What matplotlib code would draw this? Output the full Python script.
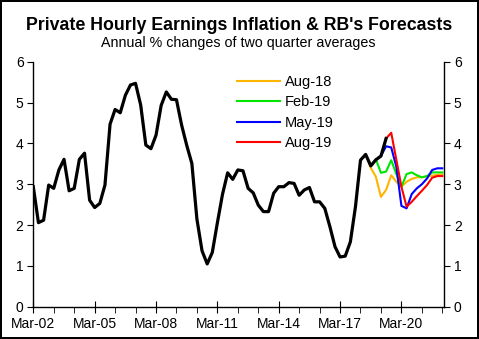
import numpy as np
import pandas as pd
import matplotlib
matplotlib.use("Agg")
import matplotlib.pyplot as plt
import matplotlib.dates as mdates
from matplotlib.ticker import FixedLocator

plt.rcParams['font.family'] = ['Liberation Sans', 'DejaVu Sans']

# quarterly dates, Mar-02 .. Mar-22
quarters = pd.date_range('2002-03-01', periods=81, freq='QS-MAR')

# actual series (Mar-02 .. Jun-19)
actual = [2.94, 2.06, 2.12, 2.98, 2.90, 3.35, 3.61, 2.84, 2.90, 3.61,
          3.76, 2.61, 2.43, 2.53, 2.98, 4.47, 4.83, 4.75, 5.18, 5.43,
          5.47, 4.94, 3.96, 3.87, 4.20, 4.93, 5.26, 5.08, 5.07, 4.45,
          3.95, 3.51, 2.15, 1.37, 1.05, 1.33, 2.05, 2.75, 3.28, 3.12,
          3.35, 3.33, 2.90, 2.79, 2.49, 2.33, 2.33, 2.78, 2.94, 2.94,
          3.04, 3.02, 2.73, 2.86, 2.92, 2.57, 2.57, 2.41, 1.96, 1.47,
          1.22, 1.24, 1.59, 2.45, 3.59, 3.73, 3.45, 3.60, 3.69, 4.12]

# forecasts: (first quarter index, values)
aug18_start = 65
aug18 = [3.73, 3.40, 3.18, 2.69, 2.86, 3.22, 3.06, 2.94, 3.06, 3.13,
         3.17, 3.17, 3.19, 3.21, 3.23, 3.24]
feb19_start = 66
feb19 = [3.45, 3.61, 3.28, 3.31, 3.59, 3.25, 2.94, 3.25, 3.29, 3.22,
         3.17, 3.20, 3.29, 3.29, 3.29]
may19_start = 68
may19 = [3.69, 3.93, 3.90, 3.43, 2.47, 2.41, 2.76, 2.90, 3.00, 3.14,
         3.35, 3.39, 3.39]
aug19_start = 69
aug19 = [4.12, 4.26, 3.60, 2.94, 2.45, 2.57, 2.71, 2.84, 2.98, 3.16,
         3.20, 3.20]

tick_years = [2002, 2005, 2008, 2011, 2014, 2017, 2020]

fig = plt.figure(figsize=(4.79, 3.39), dpi=100)
fig.patch.set_edgecolor('black')
fig.patch.set_linewidth(1.5)
ax = fig.add_axes([0.0695, 0.095, 0.8575, 0.723])

ax.plot(quarters[aug18_start:aug18_start + len(aug18)], aug18, color='#FFB400', lw=1.5, label='Aug-18', zorder=2)
ax.plot(quarters[feb19_start:feb19_start + len(feb19)], feb19, color='#00E600', lw=1.5, label='Feb-19', zorder=3)
ax.plot(quarters[may19_start:may19_start + len(may19)], may19, color='#0000FF', lw=1.5, label='May-19', zorder=4)
ax.plot(quarters[aug19_start:aug19_start + len(aug19)], aug19, color='#FF0000', lw=1.5, label='Aug-19', zorder=5)
ax.plot(quarters[:len(actual)], actual, color='black', lw=2.3, zorder=6)

ax.set_ylim(0, 6)
ax.set_xlim(quarters[0], pd.Timestamp('2022-04-01'))
ax.set_yticks(range(7))

major = [mdates.date2num(pd.Timestamp(f'{y}-03-01')) for y in tick_years]
ax.xaxis.set_major_locator(FixedLocator(major))
ax.xaxis.set_major_formatter(mdates.DateFormatter('%b-%y'))
ax.xaxis.set_minor_locator(mdates.YearLocator(1, month=3, day=1))

ax.spines['top'].set_visible(False)
for s in ['left', 'right', 'bottom']:
    ax.spines[s].set_linewidth(1.0)
ax.tick_params(axis='y', which='both', left=True, right=True, labelleft=True,
               labelright=True, direction='out', length=4, labelsize=10, pad=3)
ax.tick_params(axis='x', which='major', direction='inout', length=8, labelsize=10, pad=3)
ax.tick_params(axis='x', which='minor', direction='out', length=4)

ax.legend(loc='upper left', bbox_to_anchor=(0.495, 0.947), frameon=False,
          fontsize=10.5, handlelength=2.95, handletextpad=0.35, labelspacing=0.45,
          borderpad=0, borderaxespad=0)

fig.text(0.499, 0.925, "Private Hourly Earnings Inflation & RB's Forecasts",
         ha='center', va='center', fontsize=12.8, fontweight='bold')
fig.text(0.4975, 0.872, "Annual % changes of two quarter averages",
         ha='center', va='center', fontsize=10.3)

fig.savefig('out.png', dpi=100)
